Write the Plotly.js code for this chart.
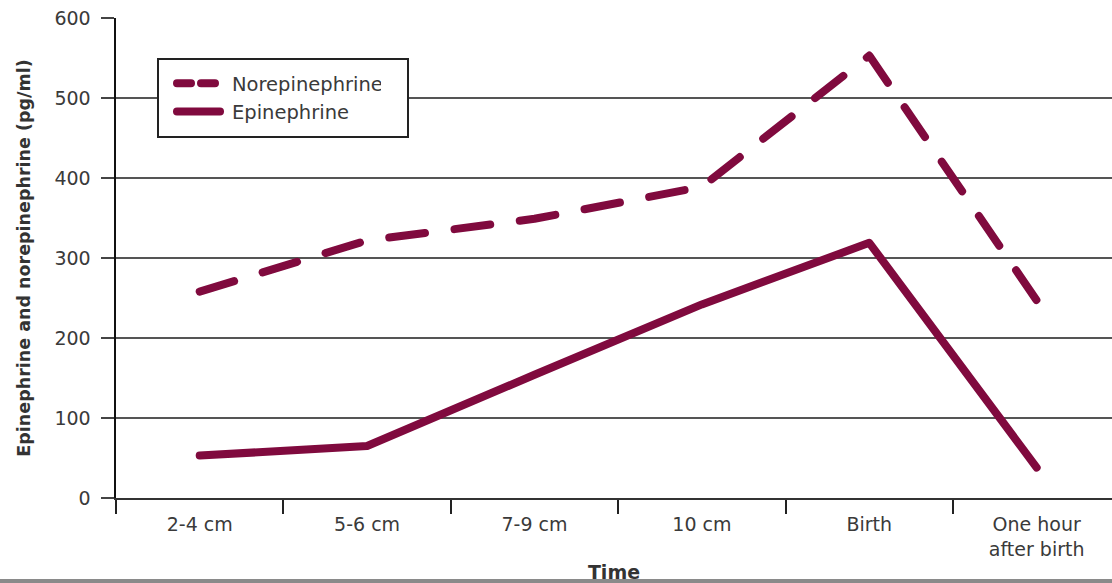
<!DOCTYPE html>
<html><head><meta charset="utf-8">
<script src="https://cdn.plot.ly/plotly-3.0.1.min.js"></script>
<style>
html,body{margin:0;padding:0;background:#fff;overflow:hidden;}
.scatterlayer path.js-line{stroke-linecap:round;stroke-linejoin:round;}
.legend path.js-line{stroke-linecap:round;}
.legend .traces:first-child path.js-line{stroke-dasharray:14px,10px !important;}
.legend text.legendtext{transform:translateX(7px);}
</style></head><body><div id="chart" style="width:1112px;height:583px"></div>
<script>
const categories = ["2-4 cm", "5-6 cm", "7-9 cm", "10 cm", "Birth", "One hour<br>after birth"];
const norepinephrine = [258, 322, 349, 389, 553, 247];
const epinephrine = [53, 65, 154, 242, 319, 38];
const yTicks = [0, 100, 200, 300, 400, 500, 600];
const seriesNames = ["Norepinephrine", "Epinephrine"];

const lineColor = "#800a3e";
const FONT = "DejaVu Sans, sans-serif";

const traces = [
  {x: categories, y: norepinephrine, name: seriesNames[0], type: "scatter", mode: "lines",
   line: {color: lineColor, width: 8, dash: "36px,29.8px"}},
  {x: categories, y: epinephrine, name: seriesNames[1], type: "scatter", mode: "lines",
   line: {color: lineColor, width: 8}}
];

const plotW = 1112 - 116;
const plotH = 480;
const px = v => (v - 116) / plotW;
const py = v => (498 - v) / plotH;

const layout = {
  width: 1112, height: 583,
  margin: {l: 116, r: 0, t: 18, b: 85},
  paper_bgcolor: "#fff", plot_bgcolor: "#fff",
  font: {family: FONT, color: "#333", size: 18},
  showlegend: true,
  legend: {x: px(172), y: py(64), xanchor: "left", yanchor: "top",
           bgcolor: "rgba(0,0,0,0)", borderwidth: 0, itemwidth: 43,
           font: {family: FONT, size: 19.5, color: "#3a3a3a"}},
  xaxis: {type: "category", range: [-0.5, 5.45], tickson: "boundaries",
          ticks: "outside", ticklen: 14, tickwidth: 2, tickcolor: "#222",
          showline: true, linecolor: "#333", linewidth: 2, showgrid: false,
          ticklabelstandoff: 8,
          tickfont: {family: FONT, size: 19, color: "#3a3a3a"},
          title: {text: "<b>Time</b>", font: {family: FONT, size: 19, color: "#333"}, standoff: 29},
          fixedrange: true},
  yaxis: {range: [0, 600], tickvals: yTicks, ticktext: yTicks.map(String),
          showgrid: true, gridcolor: "#555", gridwidth: 2, zeroline: false,
          ticks: "outside", ticklen: 13, tickwidth: 2, tickcolor: "#444",
          showline: true, linecolor: "#111", linewidth: 2.5,
          ticklabelstandoff: 6,
          tickfont: {family: FONT, size: 19, color: "#3a3a3a"},
          title: {text: "<b>Epinephrine and norepinephrine (pg/ml)</b>",
                  font: {family: FONT, size: 17.5, color: "#333"}, standoff: 20},
          fixedrange: true},
  shapes: [
    {type: "rect", xref: "paper", yref: "paper", x0: px(158), x1: px(408), y0: py(137), y1: py(59),
     fillcolor: "#fff", line: {color: "#222", width: 2}, layer: "above"},
    {type: "line", xref: "paper", yref: "paper", x0: -0.2, x1: 1.05, y0: py(581), y1: py(581),
     line: {color: "#8a8a8a", width: 4}, layer: "above"}
  ]
};

Plotly.newPlot("chart", traces, layout, {displayModeBar: false, staticPlot: true});
</script></body></html>
